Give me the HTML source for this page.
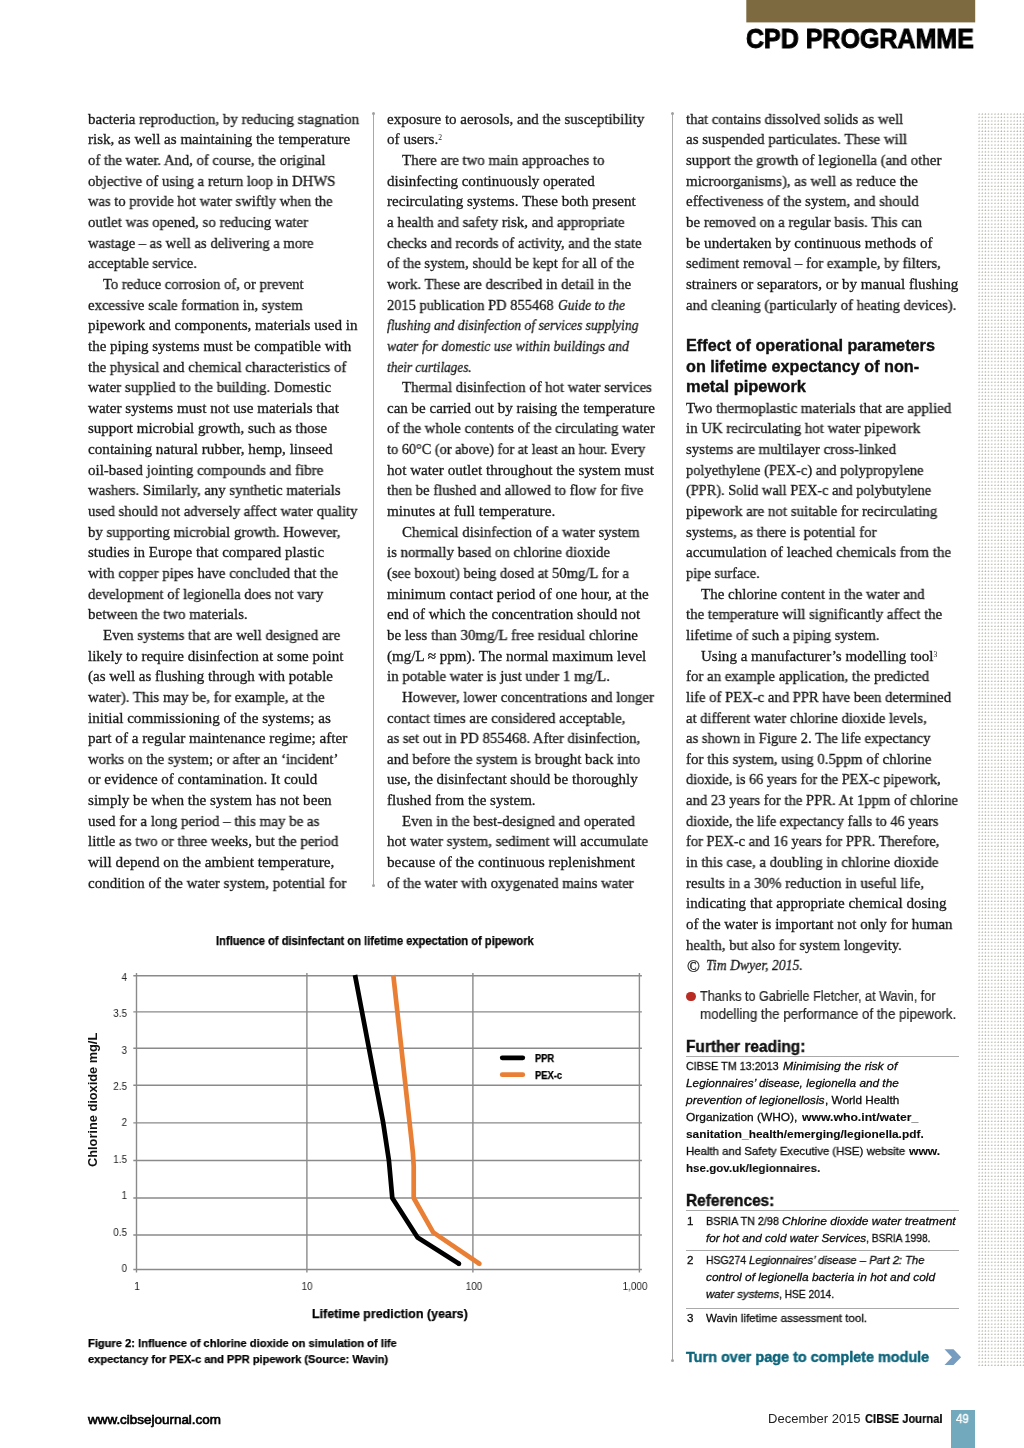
<!DOCTYPE html>
<html><head><meta charset="utf-8"><title>CPD Programme</title>
<style>
html,body{margin:0;padding:0;background:#fff;}
#page{position:relative;width:1024px;height:1448px;overflow:hidden;background:#fff;font-family:"Liberation Serif",serif;color:#1a1a1a;}
.t{position:absolute;white-space:nowrap;line-height:1;transform-origin:0 50%;will-change:transform;}
.bd{font-family:"Liberation Serif",serif;color:#1a1a1a;-webkit-text-stroke:0.3px #1a1a1a;}
.bd sup{font-size:7.6px;line-height:0;vertical-align:4.3px;-webkit-text-stroke:0;}
.hd{font-family:"Liberation Sans",sans-serif;font-weight:bold;color:#111;-webkit-text-stroke:0.35px #111;}
.hd2{font-family:"Liberation Sans",sans-serif;font-weight:bold;color:#111;-webkit-text-stroke:0.4px #111;}
.ss{font-family:"Liberation Sans",sans-serif;color:#262626;-webkit-text-stroke:0.2px #262626;}
.sm{font-family:"Liberation Sans",sans-serif;color:#0a0a0a;-webkit-text-stroke:0.28px #0a0a0a;}
.sm b{-webkit-text-stroke:0.1px #0a0a0a;}
.sm b{font-weight:bold;}
.turn{font-family:"Liberation Sans",sans-serif;font-weight:bold;color:#0c647a;-webkit-text-stroke:0.45px #0c647a;}
.cpd{font-family:"Liberation Sans",sans-serif;font-weight:bold;color:#000;-webkit-text-stroke:1px #000;}
.ft{font-family:"Liberation Sans",sans-serif;color:#222;}
.ft.b{color:#000;-webkit-text-stroke:0.15px #000;}
.b{font-weight:bold;}
.pg{font-family:"Liberation Sans",sans-serif;color:#fff;-webkit-text-stroke:0.35px #fff;}
.med{color:#000;-webkit-text-stroke:0.62px #000;}
.cs{font-family:"Liberation Sans",sans-serif;color:#222;}
.cs.b{color:#000;-webkit-text-stroke:0.25px #000;}
.ra{text-align:right;transform-origin:100% 50%;transform:scaleX(0.9);}
.ca{text-align:center;transform-origin:50% 50%;transform:scaleX(0.9);}
#dots{position:absolute;left:978.4px;top:113.3px;width:46px;height:1252.3px;
 background-image:radial-gradient(circle at 1.1px 1.1px,#b2b2a8 0.5px,rgba(255,255,255,0) 1.0px);
 background-size:3.19px 3.4433px;}
.vr{position:absolute;width:1px;background:#a8a8a8;}
.vd{position:absolute;width:3.2px;height:3.2px;border-radius:50%;background:#a0a0a0;}
.hr{position:absolute;height:1px;background:#a9a9a9;}
#bullet{position:absolute;left:686.45px;top:991.75px;width:9.5px;height:9.5px;border-radius:50%;background:#b82c23;}
#pgbox{position:absolute;left:951px;top:1410px;width:24px;height:38px;background:#72a9bd;}
svg{position:absolute;left:0;top:0;will-change:transform;}

</style></head>
<body>
<div id="page">
<div id="dots"></div>
<div class="vr" style="left:373px;top:114px;height:771.5px"></div>
<div class="vd" style="left:371.9px;top:112.3px"></div>
<div class="vd" style="left:371.9px;top:884.1px"></div>
<div class="vr" style="left:672px;top:114px;height:1246px"></div>
<div class="vd" style="left:670.9px;top:112.3px"></div>
<div class="vd" style="left:670.9px;top:1358.6px"></div>
<div class="hr" style="left:686.3px;top:1056px;width:272.5px"></div>
<div class="hr" style="left:686.3px;top:1210px;width:272.5px"></div>
<div class="hr" style="left:686.3px;top:1250px;width:272.5px"></div>
<div class="hr" style="left:686.3px;top:1308px;width:272.5px"></div>
<div id="bullet"></div>
<div id="pgbox"></div>
<svg width="1024" height="1448" viewBox="0 0 1024 1448">
<rect x="746.3" y="0" width="228.9" height="22.4" fill="#7d6a40"/>
<g stroke="#8a8a8a" stroke-width="1.4" fill="none">
<path d="M133.3 975.7H641.9M133.3 1011.9H641.9M133.3 1048.3H641.9M133.3 1085.2H641.9M133.3 1122.9H641.9M133.3 1160.5H641.9M133.3 1198H641.9M133.3 1235H641.9M133.3 1269.45H641.9"/>
<path d="M136.5 973V1272.6M306.9 973V1272.6M472.9 973V1272.6M639.4 973V1272.6"/>
</g>
<g fill="none" stroke-width="4.7" stroke-linejoin="round" stroke-linecap="butt">
<path stroke="#000" d="M355 975L375.9 1084.9L383.2 1122.8L388.9 1160.4L392.3 1198L417.6 1237.6L459 1263.8" />
<path stroke="#e97f34" d="M393.3 975L409.6 1122.8L412.9 1153L413.7 1166L413.7 1198L433.2 1232.4L479.4 1263.8"/>
</g>
<circle cx="459" cy="1263.8" r="2.35" fill="#000"/><circle cx="479.4" cy="1263.8" r="2.35" fill="#e97f34"/>
<g fill="none" stroke-width="4.7" stroke-linecap="round">
<path stroke="#000" d="M502.2 1057.8H522.8"/>
<path stroke="#e97f34" d="M502.2 1074.7H522.8"/>
</g>
<text transform="translate(97.4,1167) rotate(-90)" textLength="134.2" lengthAdjust="spacingAndGlyphs" font-family="Liberation Sans, sans-serif" font-size="13" font-weight="bold" fill="#111">Chlorine dioxide mg/L</text>
<path d="M944.5 1349.3H953.5L961.1 1357.2L953.5 1365.1H944.5L952 1357.2Z" fill="#769dc0"/>
</svg>

<div id="c0_0" class="t bd" style="left:88px;top:111.74px;font-size:15.0px;transform:scaleX(0.9971);">bacteria reproduction, by reducing stagnation</div>
<div id="c0_1" class="t bd" style="left:88px;top:132.38px;font-size:15.0px;transform:scaleX(1.0036);">risk, as well as maintaining the temperature</div>
<div id="c0_2" class="t bd" style="left:88px;top:153.03px;font-size:15.0px;transform:scaleX(0.9796);">of the water. And, of course, the original</div>
<div id="c0_3" class="t bd" style="left:88px;top:173.68px;font-size:15.0px;transform:scaleX(0.9853);">objective of using a return loop in DHWS</div>
<div id="c0_4" class="t bd" style="left:88px;top:194.33px;font-size:15.0px;transform:scaleX(0.9705);">was to provide hot water swiftly when the</div>
<div id="c0_5" class="t bd" style="left:88px;top:214.97px;font-size:15.0px;transform:scaleX(0.9890);">outlet was opened, so reducing water</div>
<div id="c0_6" class="t bd" style="left:88px;top:235.62px;font-size:15.0px;transform:scaleX(0.9755);">wastage – as well as delivering a more</div>
<div id="c0_7" class="t bd" style="left:88px;top:256.27px;font-size:15.0px;transform:scaleX(0.9615);">acceptable service.</div>
<div id="c0_8" class="t bd" style="left:103px;top:276.91px;font-size:15.0px;transform:scaleX(0.9799);">To reduce corrosion of, or prevent</div>
<div id="c0_9" class="t bd" style="left:88px;top:297.56px;font-size:15.0px;transform:scaleX(0.9818);">excessive scale formation in, system</div>
<div id="c0_10" class="t bd" style="left:88px;top:318.21px;font-size:15.0px;transform:scaleX(1.0077);">pipework and components, materials used in</div>
<div id="c0_11" class="t bd" style="left:88px;top:338.85px;font-size:15.0px;">the piping systems must be compatible with</div>
<div id="c0_12" class="t bd" style="left:88px;top:359.50px;font-size:15.0px;transform:scaleX(0.9891);">the physical and chemical characteristics of</div>
<div id="c0_13" class="t bd" style="left:88px;top:380.15px;font-size:15.0px;transform:scaleX(0.9958);">water supplied to the building. Domestic</div>
<div id="c0_14" class="t bd" style="left:88px;top:400.80px;font-size:15.0px;transform:scaleX(1.0075);">water systems must not use materials that</div>
<div id="c0_15" class="t bd" style="left:88px;top:421.44px;font-size:15.0px;transform:scaleX(0.9994);">support microbial growth, such as those</div>
<div id="c0_16" class="t bd" style="left:88px;top:442.09px;font-size:15.0px;transform:scaleX(1.0115);">containing natural rubber, hemp, linseed</div>
<div id="c0_17" class="t bd" style="left:88px;top:462.74px;font-size:15.0px;transform:scaleX(0.9975);">oil-based jointing compounds and fibre</div>
<div id="c0_18" class="t bd" style="left:88px;top:483.38px;font-size:15.0px;transform:scaleX(0.9845);">washers. Similarly, any synthetic materials</div>
<div id="c0_19" class="t bd" style="left:88px;top:504.03px;font-size:15.0px;transform:scaleX(0.9783);">used should not adversely affect water quality</div>
<div id="c0_20" class="t bd" style="left:88px;top:524.68px;font-size:15.0px;transform:scaleX(0.9862);">by supporting microbial growth. However,</div>
<div id="c0_21" class="t bd" style="left:88px;top:545.32px;font-size:15.0px;transform:scaleX(0.9996);">studies in Europe that compared plastic</div>
<div id="c0_22" class="t bd" style="left:88px;top:565.97px;font-size:15.0px;transform:scaleX(0.9908);">with copper pipes have concluded that the</div>
<div id="c0_23" class="t bd" style="left:88px;top:586.62px;font-size:15.0px;transform:scaleX(0.9752);">development of legionella does not vary</div>
<div id="c0_24" class="t bd" style="left:88px;top:607.27px;font-size:15.0px;transform:scaleX(0.9927);">between the two materials.</div>
<div id="c0_25" class="t bd" style="left:103px;top:627.91px;font-size:15.0px;transform:scaleX(0.9921);">Even systems that are well designed are</div>
<div id="c0_26" class="t bd" style="left:88px;top:648.56px;font-size:15.0px;transform:scaleX(1.0018);">likely to require disinfection at some point</div>
<div id="c0_27" class="t bd" style="left:88px;top:669.21px;font-size:15.0px;transform:scaleX(0.9997);">(as well as flushing through with potable</div>
<div id="c0_28" class="t bd" style="left:88px;top:689.85px;font-size:15.0px;transform:scaleX(0.9877);">water). This may be, for example, at the</div>
<div id="c0_29" class="t bd" style="left:88px;top:710.50px;font-size:15.0px;transform:scaleX(1.0100);">initial commissioning of the systems; as</div>
<div id="c0_30" class="t bd" style="left:88px;top:731.15px;font-size:15.0px;transform:scaleX(1.0104);">part of a regular maintenance regime; after</div>
<div id="c0_31" class="t bd" style="left:88px;top:751.79px;font-size:15.0px;transform:scaleX(0.9838);">works on the system; or after an ‘incident’</div>
<div id="c0_32" class="t bd" style="left:88px;top:772.44px;font-size:15.0px;transform:scaleX(1.0009);">or evidence of contamination. It could</div>
<div id="c0_33" class="t bd" style="left:88px;top:793.09px;font-size:15.0px;transform:scaleX(1.0103);">simply be when the system has not been</div>
<div id="c0_34" class="t bd" style="left:88px;top:813.74px;font-size:15.0px;transform:scaleX(0.9973);">used for a long period – this may be as</div>
<div id="c0_35" class="t bd" style="left:88px;top:834.38px;font-size:15.0px;transform:scaleX(0.9936);">little as two or three weeks, but the period</div>
<div id="c0_36" class="t bd" style="left:88px;top:855.03px;font-size:15.0px;transform:scaleX(1.0160);">will depend on the ambient temperature,</div>
<div id="c0_37" class="t bd" style="left:88px;top:875.68px;font-size:15.0px;transform:scaleX(0.9985);">condition of the water system, potential for</div>
<div id="c1_0" class="t bd" style="left:387px;top:111.74px;font-size:15.0px;transform:scaleX(0.9994);">exposure to aerosols, and the susceptibility</div>
<div id="c1_1" class="t bd" style="left:387px;top:132.38px;font-size:15.0px;transform:scaleX(1.0087);">of users.<sup>2</sup></div>
<div id="c1_2" class="t bd" style="left:402px;top:153.03px;font-size:15.0px;transform:scaleX(0.9938);">There are two main approaches to</div>
<div id="c1_3" class="t bd" style="left:387px;top:173.68px;font-size:15.0px;transform:scaleX(1.0017);">disinfecting continuously operated</div>
<div id="c1_4" class="t bd" style="left:387px;top:194.33px;font-size:15.0px;transform:scaleX(1.0049);">recirculating systems. These both present</div>
<div id="c1_5" class="t bd" style="left:387px;top:214.97px;font-size:15.0px;transform:scaleX(0.9925);">a health and safety risk, and appropriate</div>
<div id="c1_6" class="t bd" style="left:387px;top:235.62px;font-size:15.0px;transform:scaleX(0.9770);">checks and records of activity, and the state</div>
<div id="c1_7" class="t bd" style="left:387px;top:256.27px;font-size:15.0px;transform:scaleX(0.9764);">of the system, should be kept for all of the</div>
<div id="c1_8" class="t bd" style="left:387px;top:276.91px;font-size:15.0px;transform:scaleX(0.9877);">work. These are described in detail in the</div>
<div id="c1_9a" class="t bd" style="left:387px;top:297.56px;font-size:15.0px;transform:scaleX(0.9629);">2015 publication PD 855468</div>
<div id="c1_9" class="t bd" style="left:557.9px;top:297.56px;font-size:15.0px;transform:scaleX(0.9035);"><i>Guide to the</i></div>
<div id="c1_10" class="t bd" style="left:387px;top:318.21px;font-size:15.0px;transform:scaleX(0.9047);"><i>flushing and disinfection of services supplying</i></div>
<div id="c1_11" class="t bd" style="left:387px;top:338.85px;font-size:15.0px;transform:scaleX(0.9190);"><i>water for domestic use within buildings and</i></div>
<div id="c1_12" class="t bd" style="left:387px;top:359.50px;font-size:15.0px;transform:scaleX(0.8839);"><i>their curtilages.</i></div>
<div id="c1_13" class="t bd" style="left:402px;top:380.15px;font-size:15.0px;transform:scaleX(0.9851);">Thermal disinfection of hot water services</div>
<div id="c1_14" class="t bd" style="left:387px;top:400.80px;font-size:15.0px;">can be carried out by raising the temperature</div>
<div id="c1_15" class="t bd" style="left:387px;top:421.44px;font-size:15.0px;transform:scaleX(0.9846);">of the whole contents of the circulating water</div>
<div id="c1_16" class="t bd" style="left:387px;top:442.09px;font-size:15.0px;transform:scaleX(0.9530);">to 60°C (or above) for at least an hour. Every</div>
<div id="c1_17" class="t bd" style="left:387px;top:462.74px;font-size:15.0px;transform:scaleX(1.0108);">hot water outlet throughout the system must</div>
<div id="c1_18" class="t bd" style="left:387px;top:483.38px;font-size:15.0px;transform:scaleX(0.9739);">then be flushed and allowed to flow for five</div>
<div id="c1_19" class="t bd" style="left:387px;top:504.03px;font-size:15.0px;transform:scaleX(1.0146);">minutes at full temperature.</div>
<div id="c1_20" class="t bd" style="left:402px;top:524.68px;font-size:15.0px;transform:scaleX(0.9851);">Chemical disinfection of a water system</div>
<div id="c1_21" class="t bd" style="left:387px;top:545.32px;font-size:15.0px;transform:scaleX(0.9858);">is normally based on chlorine dioxide</div>
<div id="c1_22" class="t bd" style="left:387px;top:565.97px;font-size:15.0px;transform:scaleX(0.9778);">(see boxout) being dosed at 50mg/L for a</div>
<div id="c1_23" class="t bd" style="left:387px;top:586.62px;font-size:15.0px;transform:scaleX(1.0059);">minimum contact period of one hour, at the</div>
<div id="c1_24" class="t bd" style="left:387px;top:607.27px;font-size:15.0px;transform:scaleX(1.0030);">end of which the concentration should not</div>
<div id="c1_25" class="t bd" style="left:387px;top:627.91px;font-size:15.0px;transform:scaleX(0.9958);">be less than 30mg/L free residual chlorine</div>
<div id="c1_26" class="t bd" style="left:387px;top:648.56px;font-size:15.0px;transform:scaleX(1.0027);">(mg/L ≈ ppm). The normal maximum level</div>
<div id="c1_27" class="t bd" style="left:387px;top:669.21px;font-size:15.0px;transform:scaleX(0.9912);">in potable water is just under 1 mg/L.</div>
<div id="c1_28" class="t bd" style="left:402px;top:689.85px;font-size:15.0px;transform:scaleX(0.9893);">However, lower concentrations and longer</div>
<div id="c1_29" class="t bd" style="left:387px;top:710.50px;font-size:15.0px;transform:scaleX(0.9891);">contact times are considered acceptable,</div>
<div id="c1_30" class="t bd" style="left:387px;top:731.15px;font-size:15.0px;transform:scaleX(0.9755);">as set out in PD 855468. After disinfection,</div>
<div id="c1_31" class="t bd" style="left:387px;top:751.79px;font-size:15.0px;transform:scaleX(0.9948);">and before the system is brought back into</div>
<div id="c1_32" class="t bd" style="left:387px;top:772.44px;font-size:15.0px;">use, the disinfectant should be thoroughly</div>
<div id="c1_33" class="t bd" style="left:387px;top:793.09px;font-size:15.0px;transform:scaleX(1.0019);">flushed from the system.</div>
<div id="c1_34" class="t bd" style="left:402px;top:813.74px;font-size:15.0px;transform:scaleX(0.9896);">Even in the best-designed and operated</div>
<div id="c1_35" class="t bd" style="left:387px;top:834.38px;font-size:15.0px;transform:scaleX(0.9949);">hot water system, sediment will accumulate</div>
<div id="c1_36" class="t bd" style="left:387px;top:855.03px;font-size:15.0px;transform:scaleX(1.0155);">because of the continuous replenishment</div>
<div id="c1_37" class="t bd" style="left:387px;top:875.68px;font-size:15.0px;transform:scaleX(0.9805);">of the water with oxygenated mains water</div>
<div id="c2_0" class="t bd" style="left:686px;top:111.74px;font-size:15.0px;transform:scaleX(0.9822);">that contains dissolved solids as well</div>
<div id="c2_1" class="t bd" style="left:686px;top:132.38px;font-size:15.0px;transform:scaleX(0.9971);">as suspended particulates. These will</div>
<div id="c2_2" class="t bd" style="left:686px;top:153.03px;font-size:15.0px;transform:scaleX(0.9921);">support the growth of legionella (and other</div>
<div id="c2_3" class="t bd" style="left:686px;top:173.68px;font-size:15.0px;transform:scaleX(0.9953);">microorganisms), as well as reduce the</div>
<div id="c2_4" class="t bd" style="left:686px;top:194.33px;font-size:15.0px;transform:scaleX(0.9920);">effectiveness of the system, and should</div>
<div id="c2_5" class="t bd" style="left:686px;top:214.97px;font-size:15.0px;transform:scaleX(0.9917);">be removed on a regular basis. This can</div>
<div id="c2_6" class="t bd" style="left:686px;top:235.62px;font-size:15.0px;transform:scaleX(1.0119);">be undertaken by continuous methods of</div>
<div id="c2_7" class="t bd" style="left:686px;top:256.27px;font-size:15.0px;transform:scaleX(0.9834);">sediment removal – for example, by filters,</div>
<div id="c2_8" class="t bd" style="left:686px;top:276.91px;font-size:15.0px;transform:scaleX(1.0041);">strainers or separators, or by manual flushing</div>
<div id="c2_9" class="t bd" style="left:686px;top:297.56px;font-size:15.0px;transform:scaleX(0.9803);">and cleaning (particularly of heating devices).</div>
<div id="c2_11" class="t hd" style="left:686px;top:337.91px;font-size:15.6px;transform:scaleX(1.0407);">Effect of operational parameters</div>
<div id="c2_12" class="t hd" style="left:686px;top:358.56px;font-size:15.6px;transform:scaleX(1.0387);">on lifetime expectancy of non-</div>
<div id="c2_13" class="t hd" style="left:686px;top:379.21px;font-size:15.6px;transform:scaleX(1.0570);">metal pipework</div>
<div id="c2_14" class="t bd" style="left:686px;top:400.80px;font-size:15.0px;transform:scaleX(0.9944);">Two thermoplastic materials that are applied</div>
<div id="c2_15" class="t bd" style="left:686px;top:421.44px;font-size:15.0px;transform:scaleX(0.9885);">in UK recirculating hot water pipework</div>
<div id="c2_16" class="t bd" style="left:686px;top:442.09px;font-size:15.0px;transform:scaleX(0.9914);">systems are multilayer cross-linked</div>
<div id="c2_17" class="t bd" style="left:686px;top:462.74px;font-size:15.0px;transform:scaleX(0.9615);">polyethylene (PEX-c) and polypropylene</div>
<div id="c2_18" class="t bd" style="left:686px;top:483.38px;font-size:15.0px;transform:scaleX(0.9550);">(PPR). Solid wall PEX-c and polybutylene</div>
<div id="c2_19" class="t bd" style="left:686px;top:504.03px;font-size:15.0px;transform:scaleX(0.9940);">pipework are not suitable for recirculating</div>
<div id="c2_20" class="t bd" style="left:686px;top:524.68px;font-size:15.0px;transform:scaleX(0.9903);">systems, as there is potential for</div>
<div id="c2_21" class="t bd" style="left:686px;top:545.32px;font-size:15.0px;transform:scaleX(0.9988);">accumulation of leached chemicals from the</div>
<div id="c2_22" class="t bd" style="left:686px;top:565.97px;font-size:15.0px;transform:scaleX(0.9616);">pipe surface.</div>
<div id="c2_23" class="t bd" style="left:701px;top:586.62px;font-size:15.0px;transform:scaleX(0.9983);">The chlorine content in the water and</div>
<div id="c2_24" class="t bd" style="left:686px;top:607.27px;font-size:15.0px;transform:scaleX(0.9884);">the temperature will significantly affect the</div>
<div id="c2_25" class="t bd" style="left:686px;top:627.91px;font-size:15.0px;transform:scaleX(0.9882);">lifetime of such a piping system.</div>
<div id="c2_26" class="t bd" style="left:701px;top:648.56px;font-size:15.0px;transform:scaleX(1.0014);">Using a manufacturer’s modelling tool<sup>3</sup></div>
<div id="c2_27" class="t bd" style="left:686px;top:669.21px;font-size:15.0px;transform:scaleX(0.9893);">for an example application, the predicted</div>
<div id="c2_28" class="t bd" style="left:686px;top:689.85px;font-size:15.0px;transform:scaleX(0.9772);">life of PEX-c and PPR have been determined</div>
<div id="c2_29" class="t bd" style="left:686px;top:710.50px;font-size:15.0px;transform:scaleX(0.9739);">at different water chlorine dioxide levels,</div>
<div id="c2_30" class="t bd" style="left:686px;top:731.15px;font-size:15.0px;transform:scaleX(0.9760);">as shown in Figure 2. The life expectancy</div>
<div id="c2_31" class="t bd" style="left:686px;top:751.79px;font-size:15.0px;transform:scaleX(0.9949);">for this system, using 0.5ppm of chlorine</div>
<div id="c2_32" class="t bd" style="left:686px;top:772.44px;font-size:15.0px;transform:scaleX(0.9512);">dioxide, is 66 years for the PEX-c pipework,</div>
<div id="c2_33" class="t bd" style="left:686px;top:793.09px;font-size:15.0px;transform:scaleX(0.9767);">and 23 years for the PPR. At 1ppm of chlorine</div>
<div id="c2_34" class="t bd" style="left:686px;top:813.74px;font-size:15.0px;transform:scaleX(0.9528);">dioxide, the life expectancy falls to 46 years</div>
<div id="c2_35" class="t bd" style="left:686px;top:834.38px;font-size:15.0px;transform:scaleX(0.9647);">for PEX-c and 16 years for PPR. Therefore,</div>
<div id="c2_36" class="t bd" style="left:686px;top:855.03px;font-size:15.0px;transform:scaleX(0.9900);">in this case, a doubling in chlorine dioxide</div>
<div id="c2_37" class="t bd" style="left:686px;top:875.68px;font-size:15.0px;transform:scaleX(0.9923);">results in a 30% reduction in useful life,</div>
<div id="c2_38" class="t bd" style="left:686px;top:896.32px;font-size:15.0px;transform:scaleX(1.0026);">indicating that appropriate chemical dosing</div>
<div id="c2_39" class="t bd" style="left:686px;top:916.97px;font-size:15.0px;transform:scaleX(0.9996);">of the water is important not only for human</div>
<div id="c2_40" class="t bd" style="left:686px;top:937.62px;font-size:15.0px;transform:scaleX(0.9761);">health, but also for system longevity.</div>
<div id="c2_41c" class="t bd" style="left:686.8px;top:958.19px;font-size:17.0px;transform:scaleX(0.9906);">©</div>
<div id="c2_41" class="t bd" style="left:706.2px;top:958.26px;font-size:15.0px;transform:scaleX(0.9155);"><i>Tim Dwyer, 2015.</i></div>
<div id="th1" class="t ss" style="left:700px;top:989.35px;font-size:14.0px;transform:scaleX(0.9026);">Thanks to Gabrielle Fletcher, at Wavin, for</div>
<div id="th2" class="t ss" style="left:700px;top:1006.65px;font-size:14.0px;transform:scaleX(0.9546);">modelling the performance of the pipework.</div>
<div id="fr" class="t hd2" style="left:686px;top:1039.01px;font-size:15.7px;transform:scaleX(0.9855);">Further reading:</div>
<div id="fr0_0" class="t sm" style="left:686.4px;top:1059.78px;font-size:11.6px;transform:scaleX(0.9289);">CIBSE TM 13:2013</div>
<div id="fr0_1" class="t sm" style="left:782.5px;top:1059.78px;font-size:11.6px;transform:scaleX(1.0559);"><i>Minimising the risk of</i></div>
<div id="fr1_0" class="t sm" style="left:686.4px;top:1076.83px;font-size:11.6px;transform:scaleX(1.0189);"><i>Legionnaires’ disease, legionella and the</i></div>
<div id="fr2_0" class="t sm" style="left:686.4px;top:1093.88px;font-size:11.6px;transform:scaleX(1.0388);"><i>prevention of legionellosis</i></div>
<div id="fr2_1" class="t sm" style="left:825.0px;top:1093.88px;font-size:11.6px;transform:scaleX(1.0130);">, World Health</div>
<div id="fr3_0" class="t sm" style="left:686.4px;top:1110.93px;font-size:11.6px;transform:scaleX(1.0292);">Organization (WHO),</div>
<div id="fr3_1" class="t sm" style="left:801.6px;top:1110.93px;font-size:11.6px;transform:scaleX(1.0537);"><b>www.who.int/water_</b></div>
<div id="fr4_0" class="t sm" style="left:686.4px;top:1127.98px;font-size:11.6px;transform:scaleX(1.0249);"><b>sanitation_health/emerging/legionella.pdf.</b></div>
<div id="fr5_0" class="t sm" style="left:686.4px;top:1145.03px;font-size:11.6px;transform:scaleX(0.9831);">Health and Safety Executive (HSE) website</div>
<div id="fr5_1" class="t sm" style="left:908.5px;top:1145.03px;font-size:11.6px;transform:scaleX(1.0415);"><b>www.</b></div>
<div id="fr6_0" class="t sm" style="left:686.4px;top:1162.08px;font-size:11.6px;transform:scaleX(0.9982);"><b>hse.gov.uk/legionnaires.</b></div>
<div id="rf" class="t hd2" style="left:686px;top:1193.21px;font-size:15.7px;transform:scaleX(0.9832);">References:</div>
<div id="rn0" class="t sm" style="left:686.6px;top:1214.58px;font-size:11.6px;">1</div>
<div id="rt0_0" class="t sm" style="left:705.8px;top:1214.58px;font-size:11.6px;transform:scaleX(0.9298);">BSRIA TN 2/98</div>
<div id="rt0_1" class="t sm" style="left:781.7px;top:1214.58px;font-size:11.6px;transform:scaleX(1.0407);"><i>Chlorine dioxide water treatment</i></div>
<div id="rt1_0" class="t sm" style="left:705.8px;top:1231.68px;font-size:11.6px;transform:scaleX(1.0065);"><i>for hot and cold water Services</i></div>
<div id="rt1_1" class="t sm" style="left:866.0px;top:1231.68px;font-size:11.6px;transform:scaleX(0.8855);">, BSRIA 1998.</div>
<div id="rn2" class="t sm" style="left:686.6px;top:1253.68px;font-size:11.6px;">2</div>
<div id="rt2_0" class="t sm" style="left:705.8px;top:1253.68px;font-size:11.6px;transform:scaleX(0.9018);">HSG274</div>
<div id="rt2_1" class="t sm" style="left:749.4px;top:1253.68px;font-size:11.6px;transform:scaleX(0.9655);"><i>Legionnaires’ disease – Part 2: The</i></div>
<div id="rt3_0" class="t sm" style="left:705.8px;top:1270.98px;font-size:11.6px;transform:scaleX(1.0273);"><i>control of legionella bacteria in hot and cold</i></div>
<div id="rt4_0" class="t sm" style="left:705.8px;top:1288.38px;font-size:11.6px;transform:scaleX(0.9879);"><i>water systems</i></div>
<div id="rt4_1" class="t sm" style="left:779.0px;top:1288.38px;font-size:11.6px;transform:scaleX(0.8814);">, HSE 2014.</div>
<div id="rn5" class="t sm" style="left:686.6px;top:1311.78px;font-size:11.6px;">3</div>
<div id="rt5_0" class="t sm" style="left:705.8px;top:1311.78px;font-size:11.6px;transform:scaleX(0.9947);">Wavin lifetime assessment tool.</div>
<div id="turn" class="t turn" style="left:686.3px;top:1350.04px;font-size:14.6px;transform:scaleX(0.9877);">Turn over page to complete module</div>
<div id="cpd" class="t cpd" style="left:746.2px;top:24.82px;font-size:27.5px;transform:scaleX(0.9092);">CPD PROGRAMME</div>
<div id="www" class="t ft med" style="left:88.3px;top:1413.50px;font-size:12.4px;transform:scaleX(1.0850);">www.cibsejournal.com</div>
<div id="dec" class="t ft" style="left:768.4px;top:1412.77px;font-size:12.2px;transform:scaleX(1.0678);">December 2015</div>
<div id="dec2" class="t ft b" style="left:864.9px;top:1412.77px;font-size:12.2px;transform:scaleX(0.9155);">CIBSE Journal</div>
<div id="pg" class="t pg" style="left:956.4px;top:1412.77px;font-size:12.2px;transform:scaleX(0.9438);">49</div>
<div id="ct" class="t cs b" style="left:216px;top:934.54px;font-size:12.0px;transform:scaleX(0.9291);">Influence of disinfectant on lifetime expectation of pipework</div>
<div id="yl0" class="t cs ra" style="left:0;width:127.0px;top:971.93px;font-size:11.0px;">4</div>
<div id="yl1" class="t cs ra" style="left:0;width:127.0px;top:1008.30px;font-size:11.0px;">3.5</div>
<div id="yl2" class="t cs ra" style="left:0;width:127.0px;top:1044.67px;font-size:11.0px;">3</div>
<div id="yl3" class="t cs ra" style="left:0;width:127.0px;top:1081.04px;font-size:11.0px;">2.5</div>
<div id="yl4" class="t cs ra" style="left:0;width:127.0px;top:1117.41px;font-size:11.0px;">2</div>
<div id="yl5" class="t cs ra" style="left:0;width:127.0px;top:1153.78px;font-size:11.0px;">1.5</div>
<div id="yl6" class="t cs ra" style="left:0;width:127.0px;top:1190.15px;font-size:11.0px;">1</div>
<div id="yl7" class="t cs ra" style="left:0;width:127.0px;top:1226.52px;font-size:11.0px;">0.5</div>
<div id="yl8" class="t cs ra" style="left:0;width:127.0px;top:1262.89px;font-size:11.0px;">0</div>
<div id="xl0" class="t cs ca" style="left:97.19999999999999px;width:80px;top:1280.59px;font-size:11.0px;">1</div>
<div id="xl1" class="t cs ca" style="left:267.3px;width:80px;top:1280.59px;font-size:11.0px;">10</div>
<div id="xl2" class="t cs ca" style="left:433.6px;width:80px;top:1280.59px;font-size:11.0px;">100</div>
<div id="xl3" class="t cs ca" style="left:594.5px;width:80px;top:1280.59px;font-size:11.0px;">1,000</div>
<div id="xt" class="t cs b" style="left:311.6px;top:1308.46px;font-size:12.8px;transform:scaleX(0.9737);">Lifetime prediction (years)</div>
<div id="leg1" class="t cs b" style="left:534.7px;top:1053.31px;font-size:10.5px;transform:scaleX(0.8845);">PPR</div>
<div id="leg2" class="t cs b" style="left:534.7px;top:1070.01px;font-size:10.5px;transform:scaleX(0.8926);">PEX-c</div>
<div id="cap1" class="t cs b" style="left:88.4px;top:1338.45px;font-size:11.4px;transform:scaleX(0.9759);">Figure 2: Influence of chlorine dioxide on simulation of life</div>
<div id="cap2" class="t cs b" style="left:88.4px;top:1353.65px;font-size:11.4px;transform:scaleX(0.9712);">expectancy for PEX-c and PPR pipework (Source: Wavin)</div>
</div>
</body></html>
